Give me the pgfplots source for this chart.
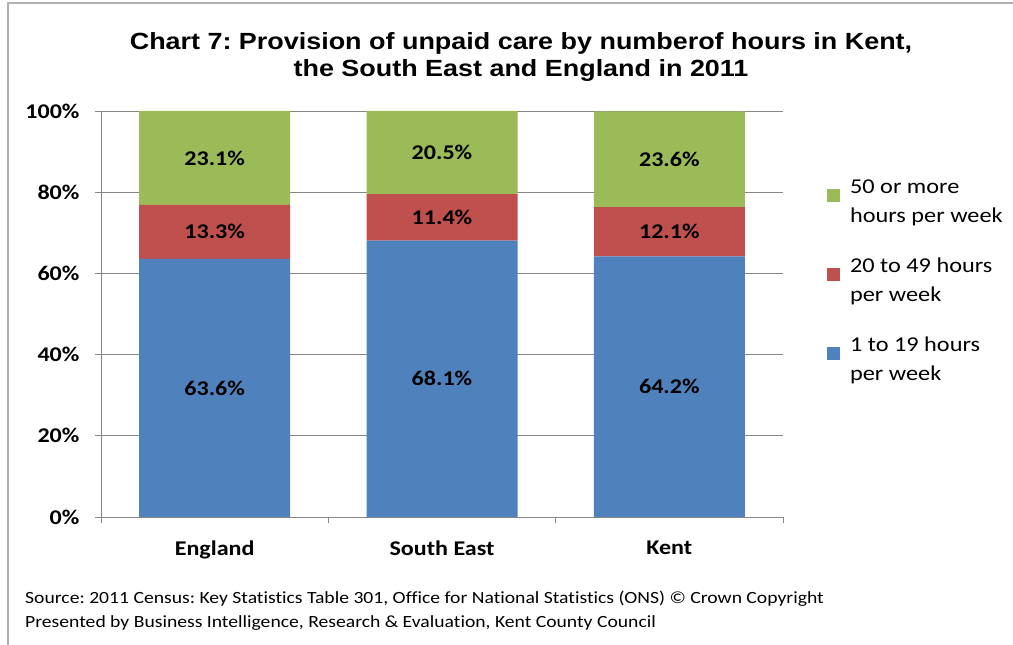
\documentclass[border=0pt]{standalone}
\usepackage{pgfplots}
\pgfplotsset{compat=1.18}
\usepackage{fontspec}
\setmainfont[FakeStretch=1.15, Ligatures=NoCommon]{Carlito}
\newfontfamily\arialfont[FakeStretch=1.15]{Liberation Sans}
\definecolor{cblue}{HTML}{4F81BD}
\definecolor{cred}{HTML}{C0504D}
\definecolor{cgreen}{HTML}{9BBB59}
\definecolor{gridgray}{HTML}{868686}
\frenchspacing
\begin{document}
\begin{tikzpicture}
\path[use as bounding box] (-101bp,-128bp) rectangle (912bp,517bp);
\draw[gray!60, line width=1.2bp] (-93bp,-130bp) -- (-93bp,514bp) -- (915bp,514bp);
\begin{axis}[
  at={(0,0)}, anchor=south west,
  scale only axis, width=682bp, height=406bp,
  ybar stacked, bar width=151bp,
  xmin=-0.5, xmax=2.5, ymin=0, ymax=100,
  /pgf/number format/assume math mode=true,
  ytick={0,20,40,60,80,100},
  yticklabels={0\%,20\%,40\%,60\%,80\%,100\%},
  yticklabel style={font=\bfseries\fontsize{21}{25}\selectfont, xshift=-12bp},
  xtick={-0.5,0.5,1.5,2.5}, xticklabels={},
  extra x ticks={0,1,2},
  extra x tick labels={England,South East,Kent},
  extra x tick style={major tick length=0pt, tick label style={font=\bfseries\fontsize{21}{25}\selectfont, yshift=-20bp}},
  ymajorgrids, major grid style={gridgray, line width=0.8bp},
  axis x line*=bottom, axis y line*=left,
  axis line style={gridgray, line width=0.8bp},
  tick align=outside, major tick length=6bp,
  tick style={gridgray, line width=0.8bp},
  visualization depends on=rawy \as \rawy,
  nodes near coords={\pgfmathprintnumber[fixed,precision=1,fixed zerofill]{\rawy}\%},
  every node near coord/.append style={anchor=center, font=\bfseries\fontsize{21}{25}\selectfont, text=black},
  legend style={at={(1.06,0.84)}, anchor=north west, draw=none, fill=none, font=\fontsize{21.2}{29}\selectfont, row sep=30bp, cells={align=left}},
  legend cell align=left,
  reverse legend,
  legend image code/.code={\fill[#1] (0bp,0bp) rectangle (13bp,13bp); \path (21bp,0bp);},
]
\addplot[fill=cblue, draw=none] coordinates {(0,63.6) (1,68.1) (2,64.2)};
\addlegendentry{1 to 19 hours\\per week}
\addplot[fill=cred, draw=none] coordinates {(0,13.3) (1,11.4) (2,12.1)};
\addlegendentry{20 to 49 hours\\per week}
\addplot[fill=cgreen, draw=none] coordinates {(0,23.1) (1,20.5) (2,23.6)};
\addlegendentry{50 or more\\hours per week}
\end{axis}
\node[font=\arialfont\bfseries\fontsize{23.5}{28}\selectfont, align=center] at (420bp,460bp) {Chart 7: Provision of unpaid care by numberof hours in Kent,\\the South East and England in 2011};
\node[font=\fontsize{17.15}{24}\selectfont, align=left, anchor=north west, inner sep=0pt] at (-76bp,-74bp) {Source: 2011 Census: Key Statistics Table 301, Office for National Statistics (ONS) © Crown Copyright\\Presented by Business Intelligence, Research \& Evaluation, Kent County Council};
\end{tikzpicture}
\end{document}
